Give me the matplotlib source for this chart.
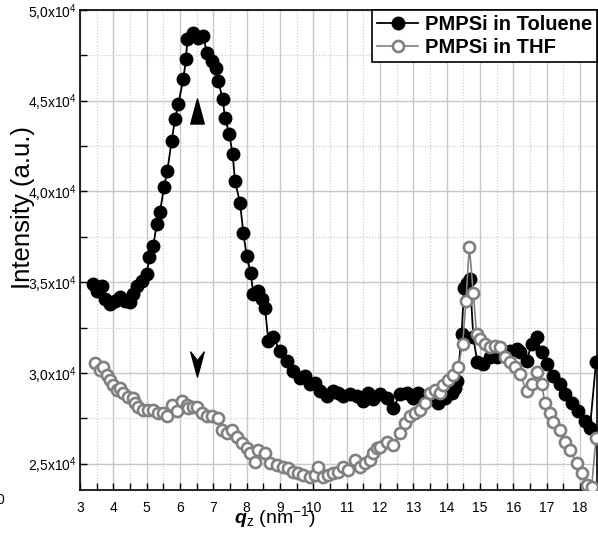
import matplotlib.pyplot as plt
from matplotlib.ticker import MultipleLocator, FuncFormatter
from matplotlib.path import Path

plt.rcParams['font.family'] = ['Liberation Sans', 'DejaVu Sans']
plt.rcParams['mathtext.fontset'] = 'custom'
plt.rcParams['mathtext.rm'] = 'Liberation Sans'
plt.rcParams['mathtext.it'] = 'Liberation Sans:italic'
plt.rcParams['mathtext.bf'] = 'Liberation Sans:italic:bold'

# PMPSi in Toluene (q_z, intensity)
tol_q = [3.40, 3.50, 3.65, 3.75, 3.90, 4.05, 4.20, 4.35, 4.50, 4.60, 4.70, 4.85, 5.00, 5.08,
         5.20, 5.30, 5.40, 5.52, 5.62, 5.75, 5.85, 5.95, 6.10, 6.18, 6.22, 6.40, 6.55, 6.70,
         6.80, 6.95, 7.08, 7.15, 7.28, 7.35, 7.48, 7.58, 7.65, 7.80, 7.90, 8.00, 8.12, 8.20,
         8.35, 8.45, 8.55, 8.65, 8.80, 9.00, 9.20, 9.40, 9.60, 9.75, 9.90, 10.05, 10.20, 10.40,
         10.60, 10.75, 10.90, 11.10, 11.30, 11.50, 11.65, 11.80, 12.00, 12.20, 12.40, 12.60,
         12.80, 13.00, 13.15, 13.35, 13.60, 13.75, 13.95, 14.15, 14.25, 14.32, 14.45, 14.52,
         14.62, 14.70, 14.80, 14.92, 15.10, 15.30, 15.50, 15.70, 15.90, 16.10, 16.20, 16.40,
         16.55, 16.70, 16.85, 17.00, 17.20, 17.40, 17.55, 17.75, 17.95, 18.15, 18.30, 18.48]
tol_i = [34890, 34520, 34800, 34060, 33800, 33970, 34170, 33970, 33900, 34340, 34800, 35070,
         35440, 36380, 37000, 38200, 38880, 40240, 41140, 42790, 43990, 44820, 46200, 47300,
         48400, 48750, 48480, 48570, 47640, 47180, 46810, 46080, 45070, 44060, 43140, 42040,
         40570, 39380, 37720, 36440, 35520, 34330, 34510, 34050, 33590, 31780, 31960, 31210,
         30660, 30110, 29740, 29830, 29370, 29460, 29000, 28730, 29000, 28910, 28730, 28820,
         28730, 28450, 28910, 28550, 28820, 28640, 28090, 28820, 28910, 28640, 28910, 28730,
         28550, 28360, 28640, 28910, 29190, 29560, 32130, 34700, 34980, 35160, 31960, 30580,
         30490, 30860, 30860, 31040, 31230, 31320, 31140, 30680, 31600, 31960, 31140, 30490,
         29850, 29390, 28820, 28360, 27900, 27350, 26980, 30580]

# PMPSi in THF
thf_q = [3.45, 3.60, 3.70, 3.80, 3.90, 4.00, 4.10, 4.20, 4.30, 4.45, 4.60, 4.65, 4.75, 4.90,
         5.05, 5.20, 5.35, 5.50, 5.60, 5.75, 5.90, 6.05, 6.20, 6.25, 6.40, 6.50, 6.65, 6.80,
         6.95, 7.15, 7.25, 7.40, 7.55, 7.70, 7.85, 8.00, 8.10, 8.25, 8.35, 8.55, 8.70, 8.90,
         9.10, 9.25, 9.40, 9.55, 9.70, 9.90, 10.05, 10.15, 10.30, 10.45, 10.60, 10.75, 10.90,
         11.05, 11.25, 11.40, 11.55, 11.70, 11.80, 11.90, 12.00, 12.20, 12.40, 12.60, 12.75,
         12.90, 13.05, 13.20, 13.35, 13.50, 13.65, 13.80, 13.90, 14.05, 14.20, 14.35, 14.48,
         14.58, 14.68, 14.80, 14.90, 15.00, 15.15, 15.30, 15.45, 15.60, 15.75, 15.90, 16.05,
         16.20, 16.40, 16.55, 16.70, 16.85, 16.95, 17.10, 17.20, 17.40, 17.55, 17.70, 17.90,
         18.05, 18.20, 18.35, 18.48]
thf_i = [30530, 30160, 30340, 29890, 29610, 29340, 29060, 29160, 28880, 28700, 28610, 28330,
         28150, 27960, 27960, 27960, 27780, 27780, 27600, 28240, 27880, 28430, 28240, 28060,
         28150, 28150, 27780, 27600, 27600, 27510, 26860, 26680, 26860, 26490, 26130, 25850,
         25570, 25110, 25760, 25570, 25020, 24930, 24840, 24750, 24560, 24470, 24380, 24290,
         24380, 24840, 24290, 24380, 24470, 24560, 24840, 24650, 25200, 24840, 25020, 25200,
         25570, 25850, 25940, 26220, 26040, 26680, 27230, 27600, 27780, 27960, 28330, 28880,
         29060, 28880, 29340, 29610, 29890, 30350, 31600, 33980, 36960, 34380, 32130, 31870,
         31600, 31410, 31500, 31450, 30860, 30580, 30310, 29940, 29020, 29380, 30030, 29390,
         28330, 27780, 27320, 26860, 26220, 25760, 25020, 24470, 23830, 23740, 26400]

# arrow markers (position of the peak marks)
mark_q = 6.5
up_i = 44430
down_i = 30470

x_ticks = list(range(3, 19))
y_ticks = [25000, 30000, 35000, 40000, 45000, 50000]


def ylab(v, pos):
    return '%s,%sx10$^4$' % (str(v / 10000)[0], str(v / 10000)[2])


fig = plt.figure(figsize=(5.98, 5.34), dpi=100)
ax = fig.add_axes([0.1338, 0.0824, 0.8645, 0.899])

ax.plot(tol_q, tol_i, '-o', color='black', lw=1.3, ms=9, mfc='black', mec='black',
        label='PMPSi in Toluene', zorder=3)
ax.plot(thf_q, thf_i, '-o', color='#808080', lw=1.2, ms=8, mfc='white', mec='#808080',
        mew=1.9, label='PMPSi in THF', zorder=4)

up_marker = Path([(-0.27, -0.5), (0, 0.5), (0.27, -0.5), (-0.27, -0.5)],
                 [Path.MOVETO, Path.LINETO, Path.LINETO, Path.CLOSEPOLY])
down_marker = Path([(-0.27, 0.5), (0, -0.5), (0.27, 0.5), (0, 0.15), (-0.27, 0.5)],
                   [Path.MOVETO, Path.LINETO, Path.LINETO, Path.LINETO, Path.CLOSEPOLY])
ax.plot([mark_q], [up_i], marker=up_marker, ms=18, color='black', ls='none', zorder=5)
ax.plot([mark_q], [down_i], marker=down_marker, ms=18, color='black', ls='none', zorder=5)

ax.set_xlim(3, 18.51)
ax.set_ylim(23550, 50000)
ax.set_xticks(x_ticks)
ax.set_yticks(y_ticks)
ax.xaxis.set_minor_locator(MultipleLocator(0.5))
ax.yaxis.set_minor_locator(MultipleLocator(2500))
ax.yaxis.set_major_formatter(FuncFormatter(ylab))
ax.tick_params(which='both', direction='in', length=5, width=1, labelsize=10)
ax.tick_params(axis='x', pad=8)
ax.tick_params(axis='y', pad=2)
ax.grid(which='major', color='#c8c8c8', lw=1.0, ls='-')
ax.grid(which='minor', color='#c8c8c8', lw=0.8, ls=':')
ax.set_axisbelow(True)
for s in ax.spines.values():
    s.set_linewidth(1.2)

leg = ax.legend(loc='upper right', bbox_to_anchor=(1.0, 1.0), borderaxespad=0,
                prop={'weight': 'bold', 'size': 14.5}, fancybox=False, framealpha=1,
                edgecolor='black', handlelength=2.0, handletextpad=0.35,
                borderpad=0.25, labelspacing=0.2)
leg.get_frame().set_linewidth(1.2)

fig.text(0.038, 0.612, 'Intensity (a.u.)', rotation=90, fontsize=18.5, ha='center', va='center')
fig.text(0.46, 0.032, r'$\mathbf{q}_{\mathrm{z}}$ (nm$^{\mathrm{-1}}$)', fontsize=14,
         ha='center', va='center')
fig.text(-0.006, 0.064, '0', fontsize=10, ha='left', va='center')

fig.savefig('out.png', dpi=100)
